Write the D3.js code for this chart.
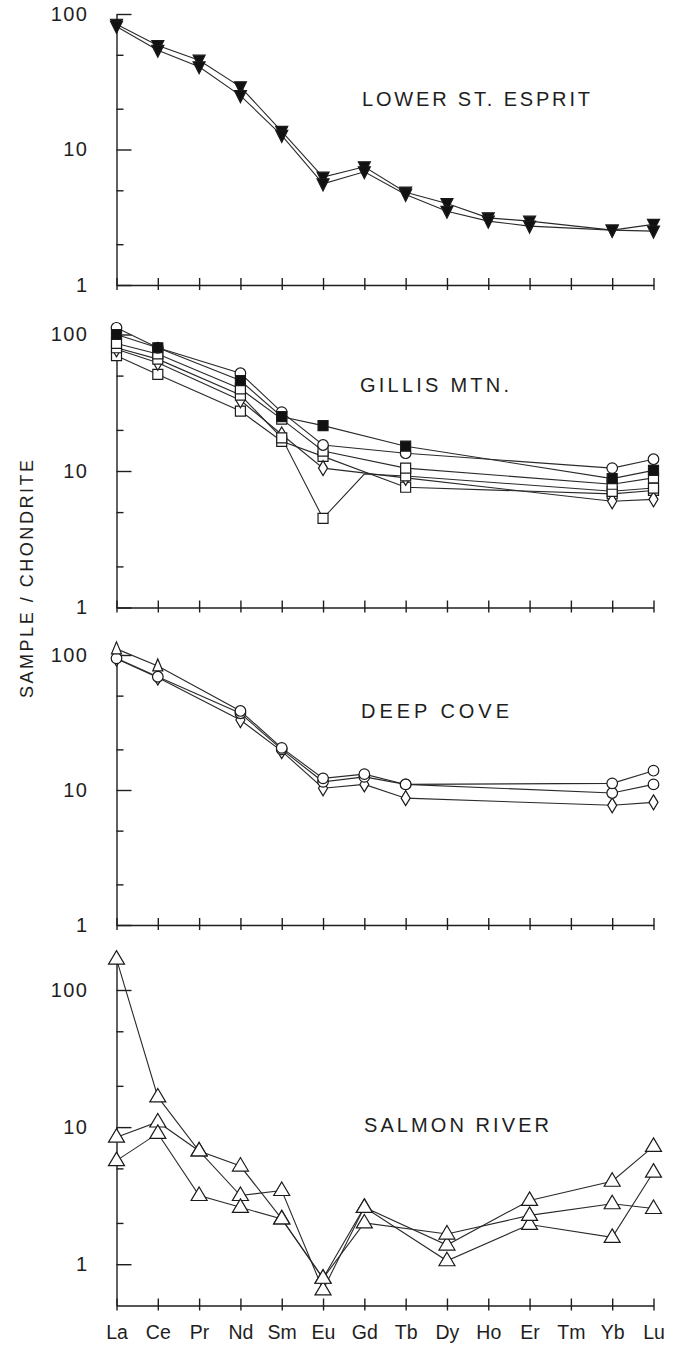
<!DOCTYPE html>
<html><head><meta charset="utf-8">
<script src="https://cdn.jsdelivr.net/npm/d3@7"></script>
<style>
body{margin:0;background:#fff;}
svg{display:block;}
text{font-family:"Liberation Sans",Arial,Helvetica,sans-serif;fill:#1e1e1e;}
.tl text{font-size:20px;letter-spacing:1.5px;}
.xl text{font-size:19.5px;}
.title{font-size:20px;}
.ylab{font-size:18px;}
.axis path,.axis line{stroke:#1e1e1e;stroke-width:1.4;}
</style></head><body>
<svg id="c" width="694" height="1346"></svg>
<script>
// ---------- data ----------
const elements = ["La","Ce","Pr","Nd","Sm","Eu","Gd","Tb","Dy","Ho","Er","Tm","Yb","Lu"];
const majorTicks = [1,10,100];
const minorTicks = [2,5,20,50];
const panelTitles = ["LOWER ST. ESPRIT","GILLIS MTN.","DEEP COVE","SALMON RIVER"];
const yAxisLabel = "SAMPLE / CHONDRITE";

// Lower St. Esprit (filled inverted triangles)
const lseA = [84, 58.5, 45.6, 29, 13.6, 6.25, 7.45, 4.84, 3.99, 3.13, 2.96, null, 2.54, 2.8];
const lseB = [81, 54, 40.8, 25, 12.7, 5.58, 6.85, 4.66, 3.5, 2.96, 2.72, null, 2.54, 2.5];

// Gillis Mtn.
const gmCircle   = [112, 80, null, 52, 27, 15.5, null, 13.5, null, null, null, null, 10.5, 12.2];
const gmFilledSq = [100, 80, null, 46, 25, 21.5, null, 15.2, null, null, null, null, 8.8, 10.1];
const gmOpenSqA  = [86, 72, null, 40, 24, 14, null, 10.5, null, null, null, null, 8.0, 8.9];
const gmOpenSqB  = [80, 66, null, 36, 17.5, 4.5, 9.5, 9.2, null, null, null, null, 7.1, 7.5];
const gmDiamond  = [78, 62, null, 33, 18.5, 10.5, null, 8.9, null, null, null, null, 6.0, 6.2];
const gmOpenSqC  = [70, 51, null, 27.5, 16.5, 12.8, null, 7.6, null, null, null, null, 6.8, 7.2];

// Deep Cove
const dcA = [111, 83, null, 38.5, 20.5, 12.2, 13.1, 11.0, null, null, null, null, 11.2, 13.9];
const dcB = [94.5, 69, null, 37, 20, 11.5, 12.5, 11.0, null, null, null, null, 9.5, 11.0];
const dcC = [94, 68, null, 33, 19.4, 10.3, 11.0, 8.7, null, null, null, null, 7.7, 8.1];

// Salmon River (open triangles)
const srA = [168, 16.6, 6.7, 5.2, 2.14, 0.79, 2.6, null, 1.38, null, 2.92, null, 4.03, 7.23];
const srB = [8.45, 10.9, 6.7, 3.17, 3.45, 0.65, 2.6, null, 1.06, null, 1.95, null, 1.57, 4.7];
const srC = [5.7, 9.0, 3.17, 2.6, 2.14, 0.79, 2.0, null, 1.66, null, 2.27, null, 2.76, 2.55];

// ---------- marker shapes ----------
const shapes = {
  triDownFilled: {d: "M-6,-5L6,-5L0,7Z", fill: "#111"},
  triUpOpen: {d: "M0,-8.5L8,5L-8,5Z", fill: "#fff"},
  triUpSmall: {d: "M0,-7L5,5L-5,5Z", fill: "#fff"},
  circle: {d: d3.symbol(d3.symbolCircle, Math.PI*5.3*5.3)(), fill: "#fff"},
  squareOpen: {d: "M-5,-5H5V5H-5Z", fill: "#fff"},
  squareFilled: {d: "M-5,-5H5V5H-5Z", fill: "#111"},
  diamond: {d: "M0,-7.5L4.5,0L0,7.5L-4.5,0Z", fill: "#fff"}
};

// ---------- layout ----------
const svg = d3.select("#c");
const X0 = 116.5, X1 = 653.5;
const x = d3.scalePoint().domain(elements).range([X0, X1]);

const panels = [
  {title: panelTitles[0], domain: [1,100], range: [285,14], tx: 362, ty: 106, tw: 228,
   series: [{v: lseA, m: "triDownFilled"}, {v: lseB, m: "triDownFilled"}]},
  {title: panelTitles[1], domain: [1,100], range: [607.5,334.5], tx: 360, ty: 392, tw: 149,
   series: [{v: gmOpenSqC, m: "squareOpen"}, {v: gmDiamond, m: "diamond"}, {v: gmOpenSqB, m: "squareOpen", skip: ["Gd"]},
            {v: gmOpenSqA, m: "squareOpen"}, {v: gmCircle, m: "circle"}, {v: gmFilledSq, m: "squareFilled"}]},
  {title: panelTitles[2], domain: [1,100], range: [925,655], tx: 361, ty: 718, tw: 148,
   series: [{v: dcC, m: "diamond"}, {v: dcB, m: "circle"}, {v: dcA, m: "circle", over: {La: "triUpSmall", Ce: "triUpSmall"}}]},
  {title: panelTitles[3], domain: [0.5,180], range: [1305.5,955], tx: 364, ty: 1132, tw: 185, showX: true,
   series: [{v: srA, m: "triUpOpen"}, {v: srB, m: "triUpOpen"}, {v: srC, m: "triUpOpen"}]}
];

panels.forEach(p => {
  const y = d3.scaleLog().domain(p.domain).range(p.range);
  const g = svg.append("g");

  // minor y ticks
  g.append("g").attr("class","axis").attr("transform",`translate(${X0},0)`)
    .call(d3.axisLeft(y).tickValues(minorTicks).tickSize(-7).tickFormat(""))
    .call(a => a.select(".domain").remove());
  // major y ticks + labels
  g.append("g").attr("class","axis tl").attr("transform",`translate(${X0},0)`)
    .call(d3.axisLeft(y).tickValues(majorTicks).tickSizeInner(-15).tickSizeOuter(0).tickPadding(28).tickFormat(d3.format("d")))
    .attr("font-size",null).attr("font-family",null);
  // x axis with crossing ticks
  const xa = g.append("g").attr("class","axis xl").attr("transform",`translate(0,${p.range[0]})`)
    .call(d3.axisBottom(x).tickSizeInner(5).tickSizeOuter(0).tickPadding(15).tickFormat(p.showX ? (d => d) : ""))
    .attr("font-size",null).attr("font-family",null);
  xa.selectAll(".tick line").attr("y1",-7);

  // title
  g.append("text").attr("class","title").attr("x",p.tx).attr("y",p.ty)
    .attr("textLength",p.tw).attr("lengthAdjust","spacing").text(p.title);

  const line = d3.line().x(d => x(d.el)).y(d => y(d.val));
  p.series.forEach(s => {
    const pts = elements.map((el,i) => ({el, val: s.v[i]})).filter(d => d.val != null);
    g.append("path").attr("d", line(pts)).attr("fill","none").attr("stroke","#2a2a2a").attr("stroke-width",1.1);
  });
  p.series.forEach(s => {
    const pts = elements.map((el,i) => ({el, val: s.v[i]})).filter(d => d.val != null && !(s.skip||[]).includes(d.el));
    g.selectAll(null).data(pts).join("path")
      .attr("transform", d => `translate(${x(d.el)},${y(d.val)})`)
      .attr("d", d => shapes[(s.over && s.over[d.el]) || s.m].d)
      .attr("fill", d => shapes[(s.over && s.over[d.el]) || s.m].fill)
      .attr("stroke","#1a1a1a").attr("stroke-width",1.2);
  });
});

// y-axis title
svg.append("text").attr("class","ylab")
  .attr("transform","translate(32.5,579) rotate(-90)")
  .attr("text-anchor","middle").attr("textLength",238).attr("lengthAdjust","spacing")
  .text(yAxisLabel);
</script>
</body></html>
